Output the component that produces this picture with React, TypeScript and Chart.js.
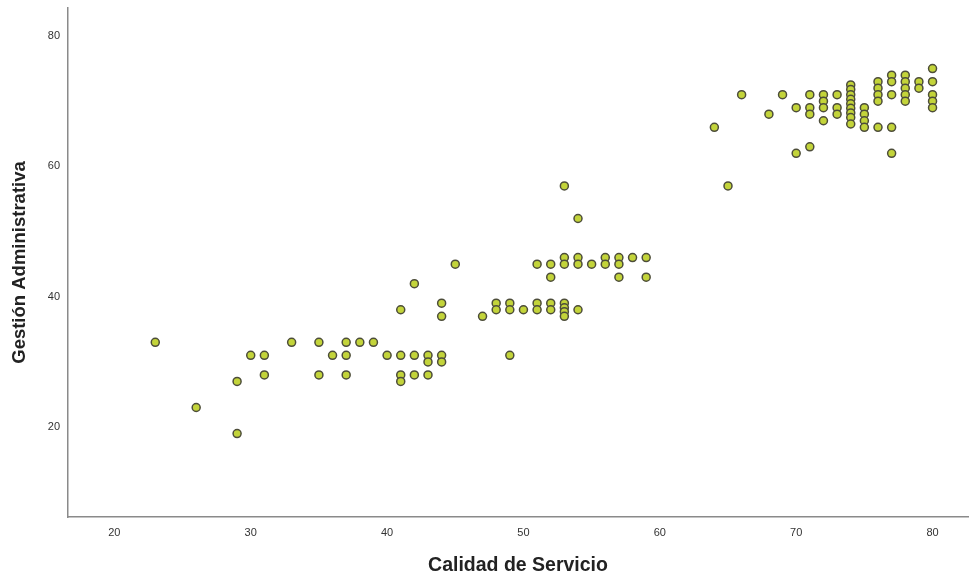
import React, { useEffect, useRef } from "react";
import { Chart, registerables } from "chart.js";

Chart.register(...registerables);

const calidad: number[] = [
  23, 26, 29, 29, 30, 31, 31, 33, 35, 35, 36, 37, 37, 37, 38, 39, 40, 41, 41, 41, 41, 42, 42, 42, 43, 43, 43, 44, 44, 44, 44, 45,
  47, 48, 48, 49, 49, 49, 50, 51, 51, 52, 52, 53, 53, 53, 53, 54,
  51, 52, 52, 53, 53, 53, 54, 54, 54, 55, 56, 56, 57, 57, 57, 58, 59, 59,
  64, 65, 66, 68, 69, 70, 70, 71, 71, 71, 71, 72, 72, 72, 72, 73, 73, 73,
  74, 74, 74, 74, 74, 74, 74, 74, 74, 75, 75, 75, 75, 76, 76, 76, 76, 76,
  77, 77, 77, 77, 77, 78, 78, 78, 78, 78, 79, 79, 80, 80, 80, 80, 80,
];

const gestion: number[] = [
  33, 23, 27, 19, 31, 31, 28, 33, 33, 28, 31, 33, 31, 28, 33, 33, 31, 38, 31, 28, 27, 42, 31, 28, 31, 30, 28, 39, 37, 31, 30, 45,
  37, 39, 38, 39, 38, 31, 38, 39, 38, 39, 38, 39, 38.3, 37.7, 37, 38,
  45, 45, 43, 57, 46, 45, 52, 46, 45, 45, 46, 45, 46, 45, 43, 46, 46, 43,
  66, 57, 71, 68, 71, 69, 62, 71, 69, 68, 63, 71, 70, 69, 67, 71, 69, 68,
  72.5, 71.8, 71, 70.3, 69.6, 68.9, 68.2, 67.5, 66.5, 69, 68, 67, 66, 73, 72, 71, 70, 66,
  74, 73, 71, 66, 62, 74, 73, 72, 71, 70, 73, 72, 75, 73, 71, 70, 69,
];

const xTicks: number[] = [20, 30, 40, 50, 60, 70, 80];
const yTicks: number[] = [20, 40, 60, 80];

export default function App() {
  const ref = useRef<HTMLCanvasElement | null>(null);

  useEffect(() => {
    if (!ref.current) return;
    const pts = calidad.map((x, i) => ({ x, y: gestion[i] }));
    const chart = new Chart(ref.current, {
      type: "scatter",
      data: {
        datasets: [
          {
            data: pts,
            backgroundColor: "#c3d43a",
            borderColor: "#4d4d3a",
            borderWidth: 1.5,
            pointRadius: 4,
            pointHoverRadius: 4,
          },
        ],
      },
      options: {
        animation: false,
        responsive: false,
        maintainAspectRatio: false,
        layout: { autoPadding: false, padding: { top: 8, right: 2, left: 0, bottom: 0 } },
        plugins: { legend: { display: false }, tooltip: { enabled: false } },
        scales: {
          x: {
            type: "linear",
            min: 16.6,
            max: 82.6,
            afterBuildTicks: (axis: any) => {
              axis.ticks = xTicks.map((v) => ({ value: v }));
            },
            afterFit: (axis: any) => {
              axis.height = 62;
              axis.paddingLeft = 0;
              axis.paddingRight = 0;
            },
            grid: { display: false, drawTicks: false },
            border: { display: true, color: "#8a8a8a", width: 1.5 },
            ticks: {
              color: "#333",
              font: { family: "Liberation Sans Narrow, Liberation Sans, Arial", size: 11 },
              padding: 9,
            },
            title: {
              display: true,
              text: "Calidad de Servicio",
              color: "#222",
              font: { family: "Liberation Sans, Arial", size: 19.5, weight: "bold" },
              padding: { top: 10, bottom: 2 },
            },
          },
          y: {
            type: "linear",
            min: 6.2,
            max: 84.3,
            afterBuildTicks: (axis: any) => {
              axis.ticks = yTicks.map((v) => ({ value: v }));
            },
            afterFit: (axis: any) => {
              axis.width = 68;
              axis.paddingTop = 0;
              axis.paddingBottom = 0;
            },
            grid: { display: false, drawTicks: false },
            border: { display: true, color: "#8a8a8a", width: 1.5 },
            ticks: {
              color: "#333",
              font: { family: "Liberation Sans Narrow, Liberation Sans, Arial", size: 11 },
              padding: 8,
            },
            title: {
              display: true,
              text: "Gestión Administrativa",
              color: "#222",
              font: { family: "Liberation Sans, Arial", size: 18.5, weight: "bold" },
              padding: { top: 9, bottom: 10 },
            },
          },
        },
      },
    });
    return () => chart.destroy();
  }, []);

  return (
    <div style={{ position: "absolute", left: 0, top: 0, width: 970, height: 579, background: "#fff" }}>
      <canvas ref={ref} width={970} height={579} style={{ width: 970, height: 579 }} />
    </div>
  );
}
